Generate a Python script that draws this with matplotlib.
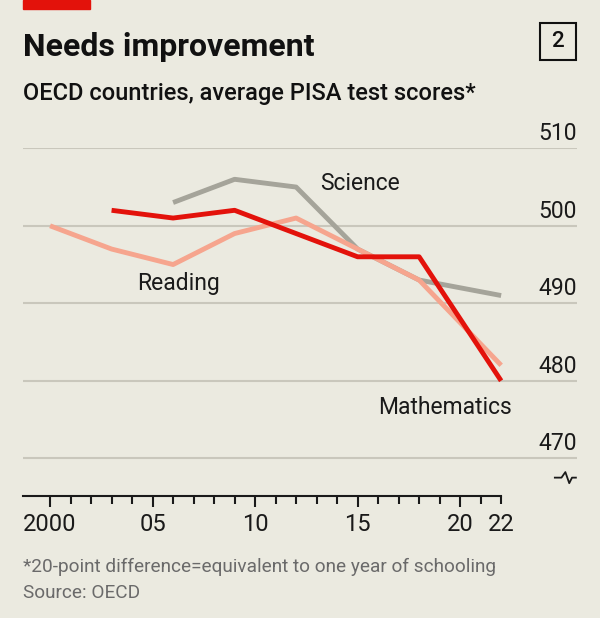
import matplotlib.pyplot as plt
from matplotlib.patches import Rectangle

# Данные (средние баллы PISA, страны ОЭСР)
years_math = [2003, 2006, 2009, 2012, 2015, 2018, 2022]
math_scores = [502, 501, 502, 499, 496, 496, 480]
years_reading = [2000, 2003, 2006, 2009, 2012, 2015, 2018, 2022]
reading_scores = [500, 497, 495, 499, 501, 497, 493, 482]
years_science = [2006, 2009, 2012, 2015, 2018, 2022]
science_scores = [503, 506, 505, 497, 493, 491]

y_ticks = [470, 480, 490, 500, 510]
x_major = [2000, 2005, 2010, 2015, 2020]
x_major_labels = ['2000', '05', '10', '15', '20']

BG = '#ebeae0'
RED = '#e3120b'
PINK = '#f6a58e'
GREY = '#a5a49a'
GRID = '#c9c7bc'

plt.rcParams['font.family'] = ['Roboto', 'DejaVu Sans']

fig = plt.figure(figsize=(6, 6.18), dpi=100, facecolor=BG)
ax = fig.add_axes([23 / 600, 1 - 495.7 / 618, 554 / 600, 347.4 / 618])
ax.set_facecolor(BG)
ax.set_xlim(1998.68, 2025.7)
ax.set_ylim(465.17, 510)

# Сетка
for v in y_ticks:
    ax.axhline(v, color=GRID, lw=1.5, zorder=1)
    ax.text(1.0, v + 1.03, str(v), transform=ax.get_yaxis_transform(),
            ha='right', va='baseline', fontsize=16.5, color='#1a1a1a')

# Линии
lw = 3.5
ax.plot(years_science, science_scores, color=GREY, lw=lw,
        solid_capstyle='butt', zorder=3)
ax.plot(years_reading, reading_scores, color=PINK, lw=lw,
        solid_capstyle='butt', zorder=4)
ax.plot(years_math, math_scores, color=RED, lw=lw,
        solid_capstyle='butt', zorder=5)

# Подписи серий
ax.text(2013.17, 505.5, 'Science', fontsize=16.5, va='center', color='#1a1a1a')
ax.text(2004.23, 492.6, 'Reading', fontsize=16.5, va='center', color='#1a1a1a')
ax.text(2016.0, 476.6, 'Mathematics', fontsize=16.5, va='center', color='#1a1a1a')

# Оси
for s in ['top', 'left', 'right']:
    ax.spines[s].set_visible(False)
ax.spines['bottom'].set_bounds(1998.68, 2022)
ax.spines['bottom'].set_linewidth(1.5)
ax.spines['bottom'].set_color('#1a1a1a')
ax.set_yticks([])
ax.set_xticks(x_major, x_major_labels)
ax.set_xticks(range(2000, 2023), minor=True)
ax.set_xticklabels(['' if y != 2022 else '22' for y in range(2000, 2023)], minor=True)
ax.tick_params(axis='x', which='major', length=8, width=1.5, color='#1a1a1a',
               labelsize=17, pad=4.5, labelcolor='#1a1a1a')
ax.tick_params(axis='x', which='minor', length=5.5, width=1.5, color='#1a1a1a',
               labelsize=17, pad=7, labelcolor='#1a1a1a')

# Разрыв оси
bx = [0.960, 0.972, 0.979, 0.986, 0.991, 0.998]
by = [0.052, 0.052, 0.068, 0.036, 0.052, 0.052]
ax.plot(bx, by, transform=ax.transAxes, color='#1a1a1a', lw=1.3, clip_on=False)

# Заголовки
fig.patches.append(Rectangle((23 / 600, 1 - 9.3 / 618), 67 / 600, 9.3 / 618,
                             transform=fig.transFigure, color=RED))
fig.text(23 / 600, 1 - 56 / 618, 'Needs improvement', fontsize=23,
         fontweight='bold', va='baseline', color='#111111')
fig.text(23 / 600, 1 - 100 / 618, 'OECD countries, average PISA test scores*',
         fontsize=17, fontweight='medium', va='baseline', color='#111111')
fig.patches.append(Rectangle((540 / 600, 1 - 60 / 618), 36 / 600, 37 / 618,
                             transform=fig.transFigure, fill=False,
                             edgecolor='#111111', lw=1.5))
fig.text(558 / 600, 1 - 41.5 / 618, '2', fontsize=16, fontweight='medium',
         ha='center', va='center', color='#111111')

fig.text(23 / 600, 1 - 571.5 / 618,
         '*20-point difference=equivalent to one year of schooling',
         fontsize=13.7, va='baseline', color='#6a6a6a')
fig.text(23 / 600, 1 - 598 / 618, 'Source: OECD', fontsize=13.7,
         va='baseline', color='#6a6a6a')

fig.savefig('out.png', dpi=100, facecolor=BG)
